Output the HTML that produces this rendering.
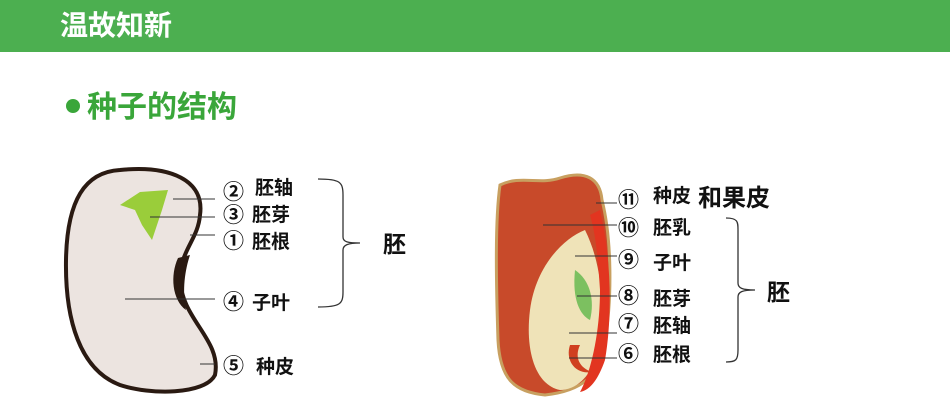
<!DOCTYPE html><html><head><meta charset="utf-8"><style>
body{margin:0;width:950px;height:400px;background:#fff;overflow:hidden;font-family:"Liberation Sans","Noto Sans CJK SC",sans-serif}
</style></head><body>
<svg width="950" height="400" xmlns="http://www.w3.org/2000/svg" style="position:absolute;left:0;top:0" font-family="Liberation Sans, Noto Sans CJK SC, sans-serif">
<rect x="0" y="0" width="950" height="52" fill="#4caf50"/>
<text x="60" y="35" font-size="28" font-weight="bold" fill="#fff">温故知新</text>
<circle cx="73" cy="106" r="7" fill="#3aa63a"/>
<text x="87" y="117" font-size="30" font-weight="bold" fill="#3aa63a">种子的结构</text>
<!-- bean -->
<path d="M120,170 C170,165 205,180 200,215 C198,240 180,250 180,280 C182,320 222,340 215,375 C205,395 150,395 120,385 C80,370 65,320 66,260 C67,200 85,172 120,170Z" fill="#ece4e0" stroke="#2a1a12" stroke-width="4"/>
<path d="M178,258 C170,275 172,300 186,310 C182,290 185,270 190,255Z" fill="#2a1a12"/>
<path d="M120,205 L140,192 L168,190 L162,210 L152,240 L142,225 L135,210Z" fill="#9acd3a"/>
<g stroke="#333" stroke-width="1">
<line x1="173" y1="199" x2="215" y2="199"/><line x1="150" y1="217" x2="215" y2="217"/><line x1="190" y1="235" x2="215" y2="235"/><line x1="125" y1="299" x2="215" y2="299"/><line x1="200" y1="364" x2="215" y2="364"/>
</g>
<g font-size="19" font-weight="bold" fill="#111">
<text x="223" y="199" font-size="21">②</text><text x="255" y="194">胚轴</text>
<text x="223" y="222" font-size="21">③</text><text x="252" y="221">胚芽</text>
<text x="223" y="248" font-size="21">①</text><text x="252" y="248">胚根</text>
<text x="223" y="309" font-size="21">④</text><text x="252" y="309">子叶</text>
<text x="223" y="373" font-size="21">⑤</text><text x="256" y="373">种皮</text>
<text x="383" y="252" font-size="23">胚</text>
</g>
<path d="M318,179 C340,179 343,182 343,195 L343,237 C343,242 348,243 360,243 C348,243 343,245 343,250 L343,292 C343,304 340,307 318,307" fill="none" stroke="#333" stroke-width="1.3"/>
<!-- corn -->
<path d="M500,185 C520,175 540,185 560,178 C585,170 600,178 602,200 C612,240 612,300 605,340 C600,370 590,390 545,395 C515,392 500,380 498,340 C496,280 495,220 500,185Z" fill="#c84a2a" stroke="#c8a060" stroke-width="3"/>
<path d="M585,230 C600,260 605,300 600,340 C596,370 580,390 560,390 C535,385 525,350 530,310 C535,270 560,240 585,230Z" fill="#efe3b8"/>
<path d="M600,210 C612,260 612,320 605,360 C598,380 590,390 580,392 C592,370 600,330 600,290 C598,260 596,235 590,215Z" fill="#e23520"/>
<path d="M575,270 C590,280 595,300 590,320 C580,315 572,300 575,270Z" fill="#7cc060"/>
<path d="M570,345 C565,360 575,375 592,372 C580,368 574,358 580,345Z" fill="#d04020"/>
<g stroke="#333" stroke-width="1">
<line x1="596" y1="203" x2="617" y2="203"/><line x1="543" y1="225" x2="617" y2="225"/><line x1="575" y1="256" x2="617" y2="256"/><line x1="577" y1="296" x2="617" y2="296"/><line x1="569" y1="333" x2="617" y2="333"/><line x1="569" y1="358" x2="617" y2="358"/>
</g>
<g font-size="19" font-weight="bold" fill="#111">
<text x="618" y="207" font-size="21">⑪</text><text x="653" y="202">种皮</text><text x="698" y="206" font-size="24">和果皮</text>
<text x="618" y="235" font-size="21">⑩</text><text x="653" y="234">胚乳</text>
<text x="618" y="267" font-size="21">⑨</text><text x="653" y="269">子叶</text>
<text x="618" y="303" font-size="21">⑧</text><text x="653" y="305">胚芽</text>
<text x="618" y="331" font-size="21">⑦</text><text x="653" y="332">胚轴</text>
<text x="618" y="361" font-size="21">⑥</text><text x="653" y="361">胚根</text>
<text x="767" y="300" font-size="23">胚</text>
</g>
<path d="M726,218 C738,218 738,222 738,230 L738,283 C738,288 742,290 755,290 C742,290 738,292 738,297 L738,350 C738,360 736,362 726,362" fill="none" stroke="#333" stroke-width="1.3"/>
</svg>
</body></html>
